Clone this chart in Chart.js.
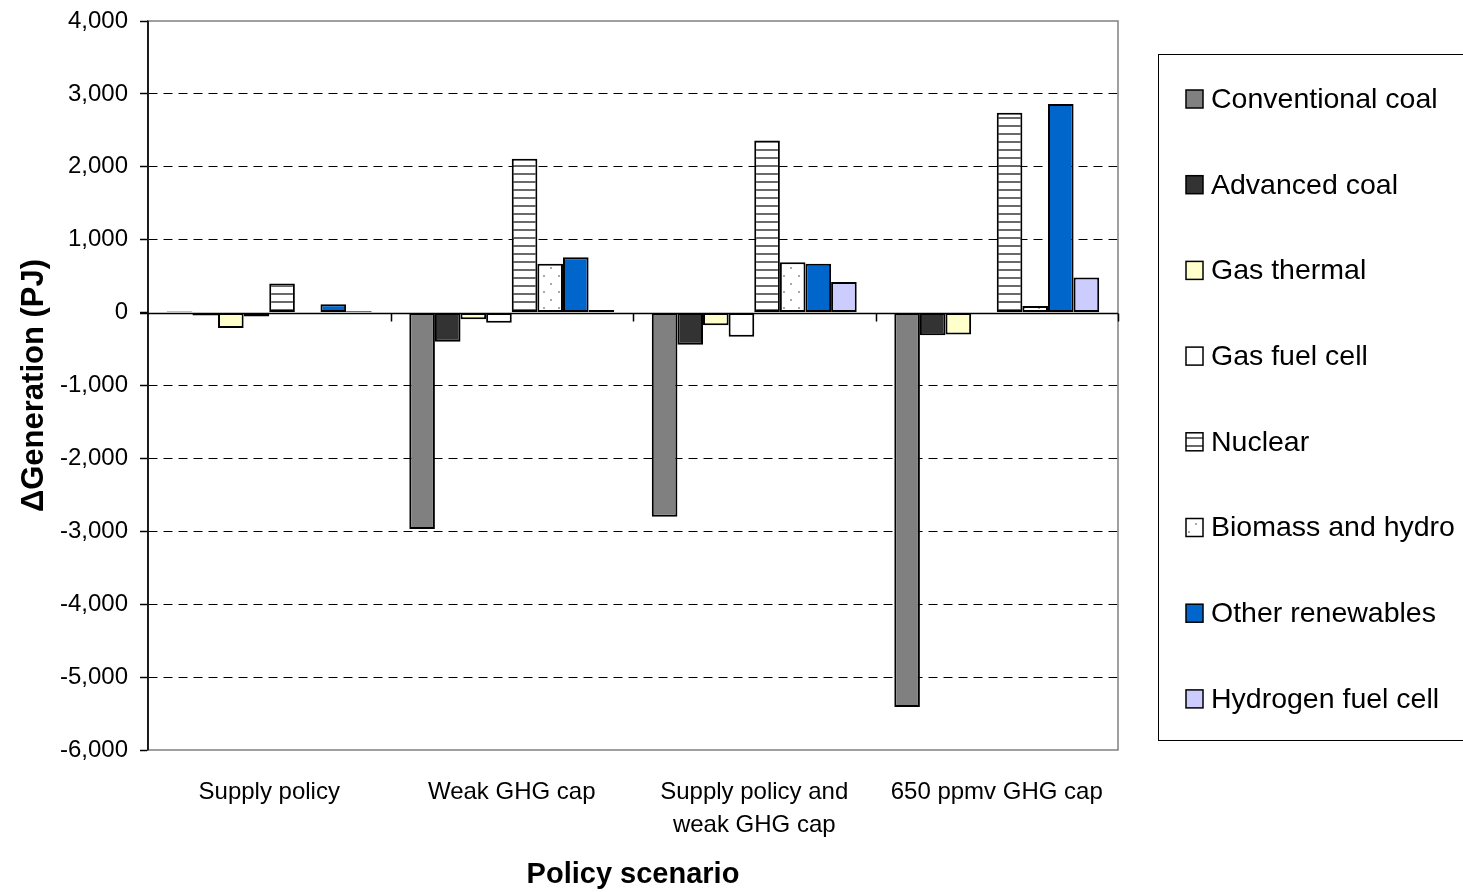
<!DOCTYPE html>
<html>
<head>
<meta charset="utf-8">
<script src="https://cdn.jsdelivr.net/npm/chart.js@4.4.1/dist/chart.umd.min.js"></script>
<style>
  html, body { margin: 0; padding: 0; background: #fff; }
  #wrap { width: 1463px; height: 892px; position: relative; overflow: hidden; }
</style>
</head>
<body>
<div id="wrap"><canvas id="chart" width="1463" height="892"></canvas></div>
<script>
// Policy scenarios (x categories)
const scenarios = [
  'Supply policy',
  'Weak GHG cap',
  ['Supply policy and', 'weak GHG cap'],
  '650 ppmv GHG cap'
];

// Change in generation by technology, PJ
const conventionalCoal = [15, -2970, -2800, -5410];
const advancedCoal     = [-40, -400, -440, -310];
const gasThermal       = [-210, -90, -175, -300];
const gasFuelCell      = [-55, -140, -330, -10];
const nuclear          = [400, 2110, 2360, 2740];
const biomassHydro     = [-20, 670, 690, 90];
const otherRenewables  = [115, 760, 670, 2860];
const hydrogenFuelCell = [20, 35, 420, 480];

const seriesNames = [
  'Conventional coal', 'Advanced coal', 'Gas thermal', 'Gas fuel cell',
  'Nuclear', 'Biomass and hydro', 'Other renewables', 'Hydrogen fuel cell'
];

// Y axis ticks
const yMin = -6000, yMax = 4000, yStep = 1000;

const FONT = "'Liberation Sans', Arial, sans-serif";

// Fill patterns
function stripePattern() {
  const c = document.createElement('canvas');
  c.width = 8; c.height = 8;
  const g = c.getContext('2d');
  g.fillStyle = '#ffffff'; g.fillRect(0, 0, 8, 8);
  g.fillStyle = '#6a6a6a'; g.fillRect(0, 5, 8, 2);
  return g.createPattern(c, 'repeat');
}
function dotPattern() {
  const c = document.createElement('canvas');
  c.width = 15; c.height = 16;
  const g = c.getContext('2d');
  g.fillStyle = '#ffffff'; g.fillRect(0, 0, 15, 16);
  g.fillStyle = '#a8a8a8';
  g.fillRect(3, 3, 2, 2);
  g.fillRect(10, 11, 2, 2);
  return g.createPattern(c, 'repeat');
}

const fills = [
  '#808080', '#333333', '#FFFFCC', '#FFFFFF',
  stripePattern(), dotPattern(), '#0066CC', '#CCCCFF'
];
const values = [
  conventionalCoal, advancedCoal, gasThermal, gasFuelCell,
  nuclear, biomassHydro, otherRenewables, hydrogenFuelCell
];

const datasets = seriesNames.map((name, i) => ({
  label: name,
  data: values[i],
  backgroundColor: fills[i],
  borderColor: '#000000',
  borderWidth: 2,
  borderSkipped: false,
  categoryPercentage: 0.845,
  barPercentage: 1.0
}));

// Plot frame, zero line and category separators
const framePlugin = {
  id: 'frame',
  beforeDatasetsDraw(chart) {
    const { ctx, chartArea: a, scales } = chart;
    const y = scales.y;
    ctx.save();
    ctx.strokeStyle = '#808080';
    ctx.lineWidth = 1.5;
    ctx.strokeRect(a.left, a.top, a.right - a.left, a.bottom - a.top);
    ctx.strokeStyle = '#000';
    ctx.lineWidth = 1.5;
    ctx.beginPath();
    ctx.moveTo(a.left, a.top); ctx.lineTo(a.left, a.bottom);
    const y0 = Math.round(y.getPixelForValue(0)) + 0.5;
    ctx.moveTo(a.left - 8, y0); ctx.lineTo(a.right, y0);
    const n = scenarios.length;
    const w = (a.right - a.left) / n;
    for (let k = 1; k <= n; k++) {
      const xx = Math.round(a.left + k * w) + 0.5;
      ctx.moveTo(xx, y0); ctx.lineTo(xx, y0 + 8);
    }
    ctx.stroke();
    ctx.restore();
  }
};

// Legend box on the right
const legendPlugin = {
  id: 'sideLegend',
  afterDraw(chart) {
    const { ctx } = chart;
    ctx.save();
    ctx.strokeStyle = '#000';
    ctx.lineWidth = 1;
    ctx.strokeRect(1158.5, 54.5, 400, 686);
    ctx.font = '28.5px ' + FONT;
    ctx.textBaseline = 'middle';
    ctx.textAlign = 'left';
    chart.data.datasets.forEach((ds, i) => {
      const cy = 99 + i * 85.7;
      ctx.fillStyle = ds.backgroundColor;
      ctx.fillRect(1186, cy - 9, 17, 18);
      ctx.strokeStyle = '#000';
      ctx.lineWidth = 1.5;
      ctx.strokeRect(1186, cy - 9, 17, 18);
      ctx.fillStyle = '#000';
      ctx.fillText(ds.label, 1211, cy + 1);
    });
    ctx.restore();
  }
};

Chart.defaults.color = '#000';
Chart.defaults.font.family = FONT;

new Chart(document.getElementById('chart'), {
  type: 'bar',
  data: { labels: scenarios, datasets },
  options: {
    responsive: false,
    animation: false,
    devicePixelRatio: 1,
    layout: { padding: { top: 21, right: 345, left: 0, bottom: 0 } },
    plugins: {
      legend: { display: false },
      tooltip: { enabled: false }
    },
    scales: {
      x: {
        grid: { display: false, drawTicks: false },
        border: { display: false },
        ticks: {
          padding: 26,
          maxRotation: 0,
          autoSkip: false,
          font: { size: 24, lineHeight: 1.38 },
          color: '#000'
        },
        title: {
          display: true,
          text: 'Policy scenario',
          font: { size: 29, weight: 'bold' },
          padding: { top: 0, bottom: 0 },
          color: '#000'
        },
        afterFit(scale) { scale.height = 142; }
      },
      y: {
        min: yMin,
        max: yMax,
        ticks: {
          stepSize: yStep,
          padding: 12,
          font: { size: 24 },
          color: '#000',
          callback: v => v.toLocaleString('en-US')
        },
        grid: {
          color: c => (c.tick && (c.tick.value === yMax || c.tick.value === yMin || c.tick.value === 0)) ? 'rgba(0,0,0,0)' : '#000',
          lineWidth: 1,
          tickLength: 8,
          tickColor: '#000',
          tickWidth: 1.5,
          tickBorderDash: []
        },
        border: { display: true, color: '#000', width: 1.5, dash: [9, 6] },
        title: {
          display: true,
          text: '\u0394Generation (PJ)',
          font: { size: 31, weight: 'bold' },
          padding: { top: 16, bottom: 0 },
          color: '#000'
        },
        afterFit(scale) {
          scale.width = 148;
          scale.paddingTop = 0;
          scale.paddingBottom = 0;
        }
      }
    }
  },
  plugins: [framePlugin, legendPlugin]
});
</script>
</body>
</html>
